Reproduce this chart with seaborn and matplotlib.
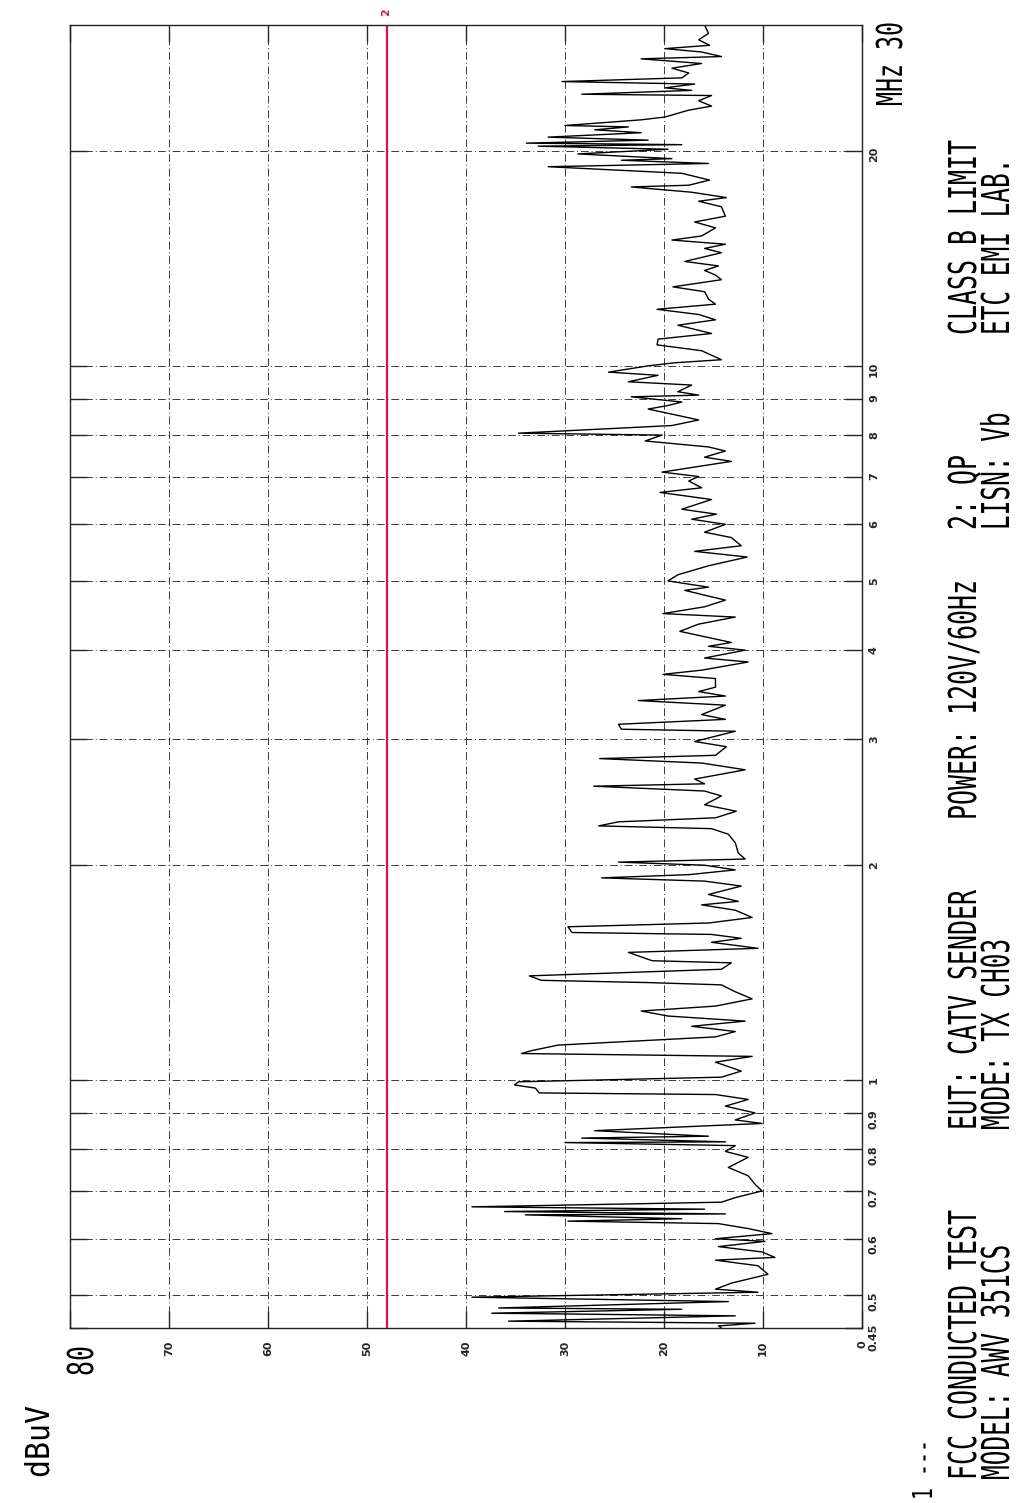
import matplotlib.pyplot as plt
import seaborn as sns
from matplotlib.font_manager import FontProperties
from matplotlib.patches import PathPatch
from matplotlib.textpath import TextPath
from matplotlib.ticker import NullLocator
from matplotlib.transforms import Affine2D

# conducted emission trace (MHz, dBuV), low to high frequency
freq_mhz = [
    0.45, 0.453, 0.457, 0.46, 0.468, 0.472, 0.478, 0.48, 0.49, 0.497,
    0.505, 0.51, 0.52, 0.535, 0.55, 0.56, 0.565, 0.575, 0.585, 0.595,
    0.6, 0.61, 0.62, 0.63, 0.635, 0.64, 0.648, 0.65, 0.655, 0.66,
    0.665, 0.675, 0.685, 0.7, 0.715, 0.735, 0.755, 0.78, 0.795, 0.81,
    0.818, 0.82, 0.83, 0.835, 0.85, 0.87, 0.88, 0.9, 0.92, 0.94,
    0.955, 0.96, 0.975, 0.985, 0.995, 1.01, 1.03, 1.06, 1.08, 1.09,
    1.1, 1.12, 1.15, 1.17, 1.19, 1.21, 1.23, 1.25, 1.27, 1.3,
    1.33, 1.36, 1.37, 1.38, 1.4, 1.43, 1.46, 1.47, 1.51, 1.53,
    1.56, 1.58, 1.6, 1.61, 1.64, 1.66, 1.69, 1.73, 1.76, 1.78,
    1.82, 1.87, 1.9, 1.92, 1.94, 1.97, 2.0, 2.02, 2.04, 2.08,
    2.15, 2.21, 2.25, 2.27, 2.3, 2.33, 2.38, 2.43, 2.5, 2.54,
    2.58, 2.6, 2.64, 2.72, 2.78, 2.82, 2.85, 2.93, 2.98, 3.08,
    3.1, 3.15, 3.2, 3.25, 3.35, 3.4, 3.45, 3.5, 3.55, 3.65,
    3.7, 3.75, 3.85, 3.9, 4.0, 4.05, 4.1, 4.25, 4.35, 4.45,
    4.5, 4.6, 4.7, 4.75, 4.85, 4.9, 5.0, 5.1, 5.25, 5.4,
    5.5, 5.6, 5.75, 5.85, 6.0, 6.1, 6.2, 6.3, 6.5, 6.65,
    6.75, 6.9, 7.0, 7.1, 7.35, 7.45, 7.6, 7.7, 7.85, 8.0,
    8.05, 8.25, 8.4, 8.5, 8.7, 8.8, 8.9, 9.05, 9.1, 9.2,
    9.4, 9.5, 9.7, 9.8, 10.0, 10.1, 10.2, 10.5, 10.7, 10.9,
    11.1, 11.4, 11.6, 11.8, 12.0, 12.2, 12.4, 12.7, 12.9, 13.2,
    13.4, 13.6, 13.8, 14.0, 14.4, 14.6, 14.8, 15.0, 15.2, 15.6,
    15.9, 16.2, 16.7, 17.0, 17.2, 17.5, 17.8, 17.9, 18.2, 18.6,
    19.0, 19.2, 19.4, 19.5, 19.8, 20.1, 20.3, 20.4, 20.5, 20.7,
    20.9, 21.2, 21.4, 21.6, 21.7, 22.1, 22.3, 22.8, 23.1, 23.5,
    23.9, 24.0, 24.3, 24.5, 24.8, 25.0, 25.3, 25.7, 26.1, 26.5,
    26.9, 27.1, 27.5, 27.8, 28.1, 28.6, 29.2, 30.0,
]
level_dbuv = [
    14.2, 14.5, 10.8, 35.7, 12.8, 37.4, 18.2, 36.7, 13.5, 39.4,
    10.5, 14.8, 13.2, 9.5, 10.5, 14.8, 8.8, 10.1, 14.5, 9.8,
    14.8, 9.1, 11.5, 14.5, 29.7, 18.2, 34.0, 13.8, 36.1, 15.9,
    39.4, 14.2, 12.8, 10.1, 10.8, 11.5, 13.5, 11.5, 13.8, 12.8,
    30.0, 13.8, 28.3, 15.5, 27.0, 10.1, 12.8, 10.8, 13.8, 11.5,
    14.8, 32.6, 33.0, 35.1, 34.7, 14.2, 12.2, 14.8, 11.1, 34.4,
    33.4, 30.7, 14.8, 12.8, 17.2, 11.8, 19.6, 22.3, 14.8, 11.1,
    12.8, 14.2, 21.6, 32.4, 33.6, 14.2, 13.2, 21.2, 23.6, 10.5,
    15.2, 12.2, 15.2, 29.3, 29.7, 15.5, 11.1, 12.8, 16.2, 12.5,
    15.5, 12.2, 15.9, 26.3, 17.5, 12.8, 15.9, 24.6, 11.8, 12.5,
    12.8, 13.5, 15.2, 26.6, 24.6, 14.8, 12.7, 15.9, 14.2, 15.9,
    27.1, 15.9, 16.9, 11.8, 16.2, 26.5, 14.8, 13.7, 16.9, 12.8,
    24.3, 24.6, 13.8, 16.2, 13.8, 22.6, 13.8, 16.5, 14.8, 14.8,
    20.1, 16.2, 11.5, 15.9, 11.8, 15.5, 13.2, 18.4, 16.5, 12.8,
    20.1, 15.9, 13.8, 15.2, 17.9, 15.5, 19.6, 18.6, 15.5, 11.6,
    16.9, 12.2, 13.2, 15.9, 13.8, 17.2, 14.7, 18.2, 15.2, 20.4,
    16.2, 17.5, 16.5, 20.2, 13.2, 15.9, 13.8, 15.5, 21.9, 20.2,
    34.7, 19.2, 16.5, 18.2, 21.6, 19.6, 18.2, 23.3, 16.5, 18.6,
    17.2, 23.6, 20.6, 25.6, 21.6, 18.9, 14.2, 16.2, 20.7, 20.6,
    15.2, 18.6, 14.8, 16.5, 20.7, 14.8, 15.5, 15.9, 19.1, 14.2,
    14.8, 15.9, 14.5, 17.9, 14.2, 15.9, 13.8, 19.2, 16.2, 14.8,
    16.9, 13.8, 14.2, 16.5, 13.7, 17.2, 23.3, 17.5, 15.4, 18.2,
    31.7, 15.5, 24.3, 19.2, 28.7, 19.6, 32.7, 18.2, 33.9, 21.6,
    31.7, 22.3, 27.0, 23.6, 30.0, 22.3, 19.9, 17.5, 15.2, 16.5,
    15.2, 28.3, 17.2, 19.9, 16.9, 30.3, 18.2, 17.5, 19.2, 16.2,
    22.3, 14.2, 16.2, 19.9, 15.4, 16.5, 15.5, 15.9,
]

limit_qp = 48  # class B quasi-peak limit, dBuV
freq_ticks = [0.45, 0.5, 0.6, 0.7, 0.8, 0.9, 1, 2, 3, 4, 5, 6, 7, 8, 9, 10, 20]
freq_labels = ["0.45", "0.5", "0.6", "0.7", "0.8", "0.9", "1", "2", "3", "4",
               "5", "6", "7", "8", "9", "10", "20"]
level_ticks = [0, 10, 20, 30, 40, 50, 60, 70, 80]
level_labels = ["0", "10", "20", "30", "40", "50", "60", "70", ""]

# header blocks: text, start (bottom) pixel row, column centre
header = [
    ("FCC CONDUCTED TEST", 1480, 962), ("MODEL: AWV 351CS", 1480, 995),
    ("EUT: CATV SENDER", 1130, 962), ("MODE: TX CH03", 1130, 995),
    ("POWER: 120V/60Hz", 820, 962),
    ("2: QP", 530, 962), ("LISN: Vb", 530, 995),
    ("CLASS B LIMIT", 335, 962), ("ETC EMI LAB.", 335, 995),
]

sns.set_style("white")
plt.rcParams["font.family"] = ["DejaVu Sans"]
RED = "#d4145a"
MONO = FontProperties(family="DejaVu Sans Mono")

W, H = 1019, 1503


def fx(px):
    return px / W


def fy(py):
    return 1 - py / H


def plotter_text(px, py, s, cap=28, pitch=15, color="black"):
    # narrow monospaced plotter lettering, reading bottom-to-top from (px, py)
    size = cap / 0.729
    squeeze = pitch / (0.602 * size)
    path = TextPath((0, 0), s, size=size, prop=MONO)
    tr = (Affine2D().translate(0, -cap / 2).scale(squeeze, 1)
          .rotate_deg(90).translate(px, H - py))
    fig.add_artist(PathPatch(path, transform=tr, facecolor=color,
                             edgecolor="none"))


fig = plt.figure(figsize=(W / 100, H / 100), dpi=100)
ax = fig.add_axes([fx(70), fy(1328), (862 - 70) / W, (1328 - 25) / H])

sns.lineplot(x=level_dbuv, y=freq_mhz, orient="y", sort=False, estimator=None,
             color="black", lw=1.0, ax=ax)
ax.axvline(limit_qp, color=RED, lw=1.6)

ax.set_yscale("log")
ax.set_ylim(0.45, 30)
ax.set_xlim(80, 0)
ax.set_yticks(freq_ticks, freq_labels)
ax.yaxis.set_minor_locator(NullLocator())
ax.set_xticks(level_ticks, level_labels)
ax.set_xlabel("")
ax.set_ylabel("")

ax.grid(True, which="major", color="#3a3a3a", lw=0.7, linestyle=(0, (8, 3, 1, 3)))
ax.tick_params(axis="y", which="major", direction="in", length=12, width=1,
               left=True, right=True, labelleft=False, labelright=True,
               labelrotation=90, labelsize=8, pad=5)
ax.tick_params(axis="x", which="major", direction="in", length=12, width=1,
               top=True, bottom=True, labelrotation=90, labelsize=8, pad=9)
for lbl in ax.get_xticklabels() + ax.get_yticklabels():
    lbl.set_fontweight("bold")
for sp in ax.spines.values():
    sp.set_color("#222222")
    sp.set_linewidth(1.0)

# red limit label above the frame
fig.text(fx(386), fy(12), "2", rotation=90, color=RED, fontsize=8,
         fontweight="bold", ha="center", va="center")

# axis captions and header, lettered like the plotter output
plotter_text(80, 1376, "80", cap=26)
plotter_text(37, 1478, "dBuV", cap=24, pitch=18)
plotter_text(889, 106, "MHz 30", cap=26, pitch=14)

for s, py, px in header:
    plotter_text(px, py, s, pitch=15 if px < 990 else 14.7)
plotter_text(922, 1500, "1 ---", cap=20, pitch=12)

fig.savefig("out.png", dpi=100, facecolor="white")
